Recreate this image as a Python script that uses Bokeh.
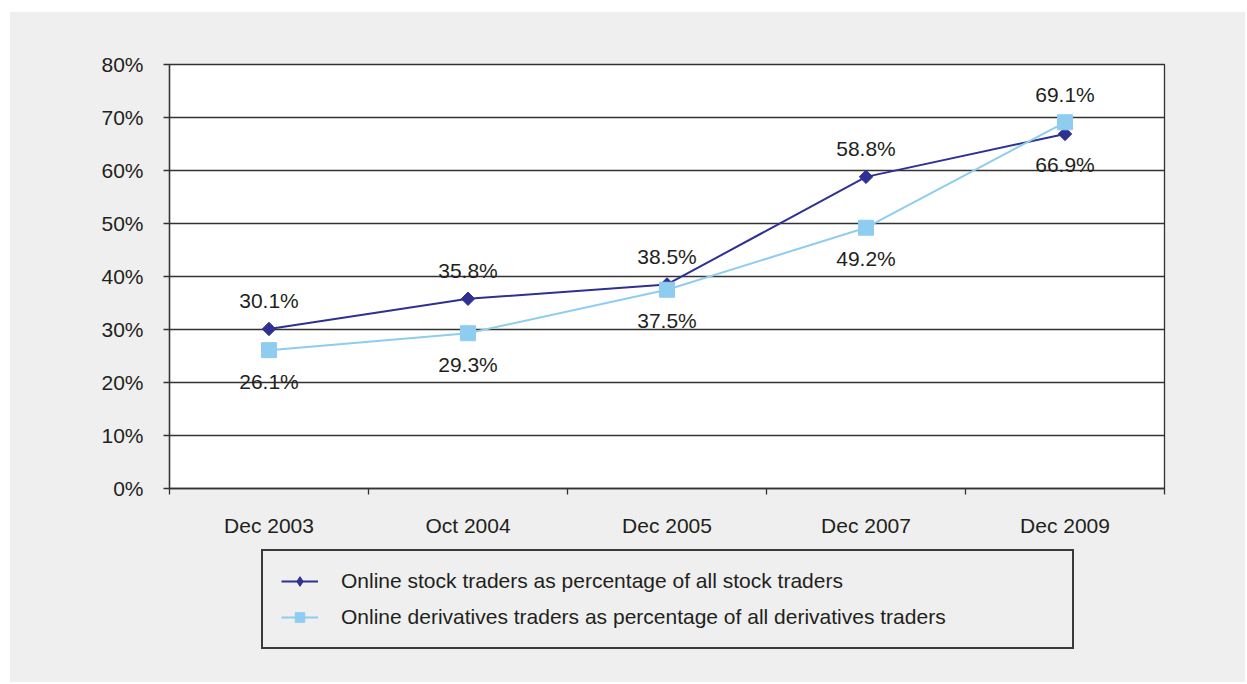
from bokeh.plotting import figure
from bokeh.layouts import column
from bokeh.models import (Range1d, FixedTicker, PrintfTickFormatter, Legend,
                          LegendItem, ColumnDataSource)
from bokeh.core.properties import value
from bokeh.embed import file_html
from bokeh.resources import INLINE

# ---- data ----
categories = ["Dec 2003", "Oct 2004", "Dec 2005", "Dec 2007", "Dec 2009"]
stock = [30.1, 35.8, 38.5, 58.8, 66.9]
deriv = [26.1, 29.3, 37.5, 49.2, 69.1]
y_ticks = [0, 10, 20, 30, 40, 50, 60, 70, 80]
series_names = ["Online stock traders as percentage of all stock traders",
                "Online derivatives traders as percentage of all derivatives traders"]

FONT = "Liberation Sans"
TXT = "#231f20"
BG = "#eeefee"
DARK = "#2e3192"
LIGHT = "#8ecdf0"
GRID = "#333333"

xs = [i + 0.5 for i in range(len(categories))]

p = figure(width=1235, height=531, output_backend="svg", toolbar_location=None,
           x_range=Range1d(0, len(categories)), y_range=Range1d(y_ticks[0], y_ticks[-1]),
           min_border_left=159, min_border_right=81, min_border_top=52,
           min_border_bottom=55)
p.border_fill_color = BG
p.background_fill_color = "white"
p.outline_line_color = GRID
p.outline_line_width = 1.3

# axes
p.xaxis.ticker = FixedTicker(ticks=xs, minor_ticks=list(range(len(categories) + 1)))
p.xaxis.major_label_overrides = {x: c for x, c in zip(xs, categories)}
p.xaxis.major_tick_out = 0
p.xaxis.major_tick_in = 0
p.xaxis.minor_tick_out = 6
p.xaxis.minor_tick_in = 0
p.xaxis.minor_tick_line_color = GRID
p.xaxis.major_label_standoff = 19
p.yaxis.ticker = FixedTicker(ticks=y_ticks, minor_ticks=[])
p.yaxis.formatter = PrintfTickFormatter(format="%d%%")
p.yaxis.major_tick_out = 6
p.yaxis.major_tick_in = 0
p.yaxis.major_label_standoff = 20
for ax in (p.xaxis, p.yaxis):
    ax.axis_line_color = GRID
    ax.axis_line_width = 1.3
    ax.major_tick_line_color = GRID
    ax.major_tick_line_width = 1.3
    ax.minor_tick_line_width = 1.3
    ax.major_label_text_font = FONT
    ax.major_label_text_font_size = "21px"
    ax.major_label_text_color = TXT

p.xgrid.visible = False
p.ygrid.ticker = FixedTicker(ticks=y_ticks)
p.ygrid.grid_line_color = GRID
p.ygrid.grid_line_width = 1.3

# series
p.line(xs, stock, line_color=DARK, line_width=2)
p.scatter(xs, stock, marker="square", angle=0.785398, size=9.5,
          fill_color=DARK, line_color=DARK)
p.line(xs, deriv, line_color=LIGHT, line_width=2)
p.scatter(xs, deriv, marker="square", size=15, fill_color=LIGHT, line_color=LIGHT)

# data labels: above if this series is higher than the other at that point
def lab_src(vals, other):
    return ColumnDataSource(dict(
        x=xs, y=vals, t=[f"{v:.1f}%" for v in vals],
        off=[-28 if v > o else 31 for v, o in zip(vals, other)]))

for src in (lab_src(stock, deriv), lab_src(deriv, stock)):
    p.text(x="x", y="y", text="t", y_offset="off", source=src,
           text_align="center", text_baseline="middle",
           text_font=value(FONT), text_font_size="21px", text_color=TXT)

# ---- legend panel (separate strip below the chart) ----
q = figure(width=1235, height=139, output_backend="svg", toolbar_location=None,
           x_axis_location=None, y_axis_location=None,
           x_range=Range1d(100, 101), y_range=Range1d(100, 101),
           min_border_left=159, min_border_right=81, min_border_top=0,
           min_border_bottom=0)
q.border_fill_color = BG
q.background_fill_color = BG
q.outline_line_color = None
q.grid.visible = False
l1 = q.line(xs, stock, line_color=DARK, line_width=2)
m1 = q.scatter(xs, stock, marker="diamond", size=14, fill_color=DARK, line_color=DARK)
l2 = q.line(xs, deriv, line_color=LIGHT, line_width=2)
m2 = q.scatter(xs, deriv, marker="square", size=15, fill_color=LIGHT, line_color=LIGHT)

legend = Legend(items=[LegendItem(label=series_names[0], renderers=[l1, m1]),
                       LegendItem(label=series_names[1], renderers=[l2, m2])],
                location=(92, 33), orientation="vertical",
                padding=18, spacing=12, margin=0,
                glyph_width=37, glyph_height=24, label_height=24,
                label_standoff=23, label_width=713,
                label_text_font=FONT, label_text_font_size="21px",
                label_text_color=TXT,
                background_fill_color=BG, background_fill_alpha=1,
                border_line_color="#3a3a3a", border_line_alpha=1,
                border_line_width=2)
q.add_layout(legend, "center")

layout = column(p, q, spacing=0, margin=(12, 0, 0, 10),
                styles={"background-color": BG})
open("out.html", "w").write(file_html(layout, INLINE))
